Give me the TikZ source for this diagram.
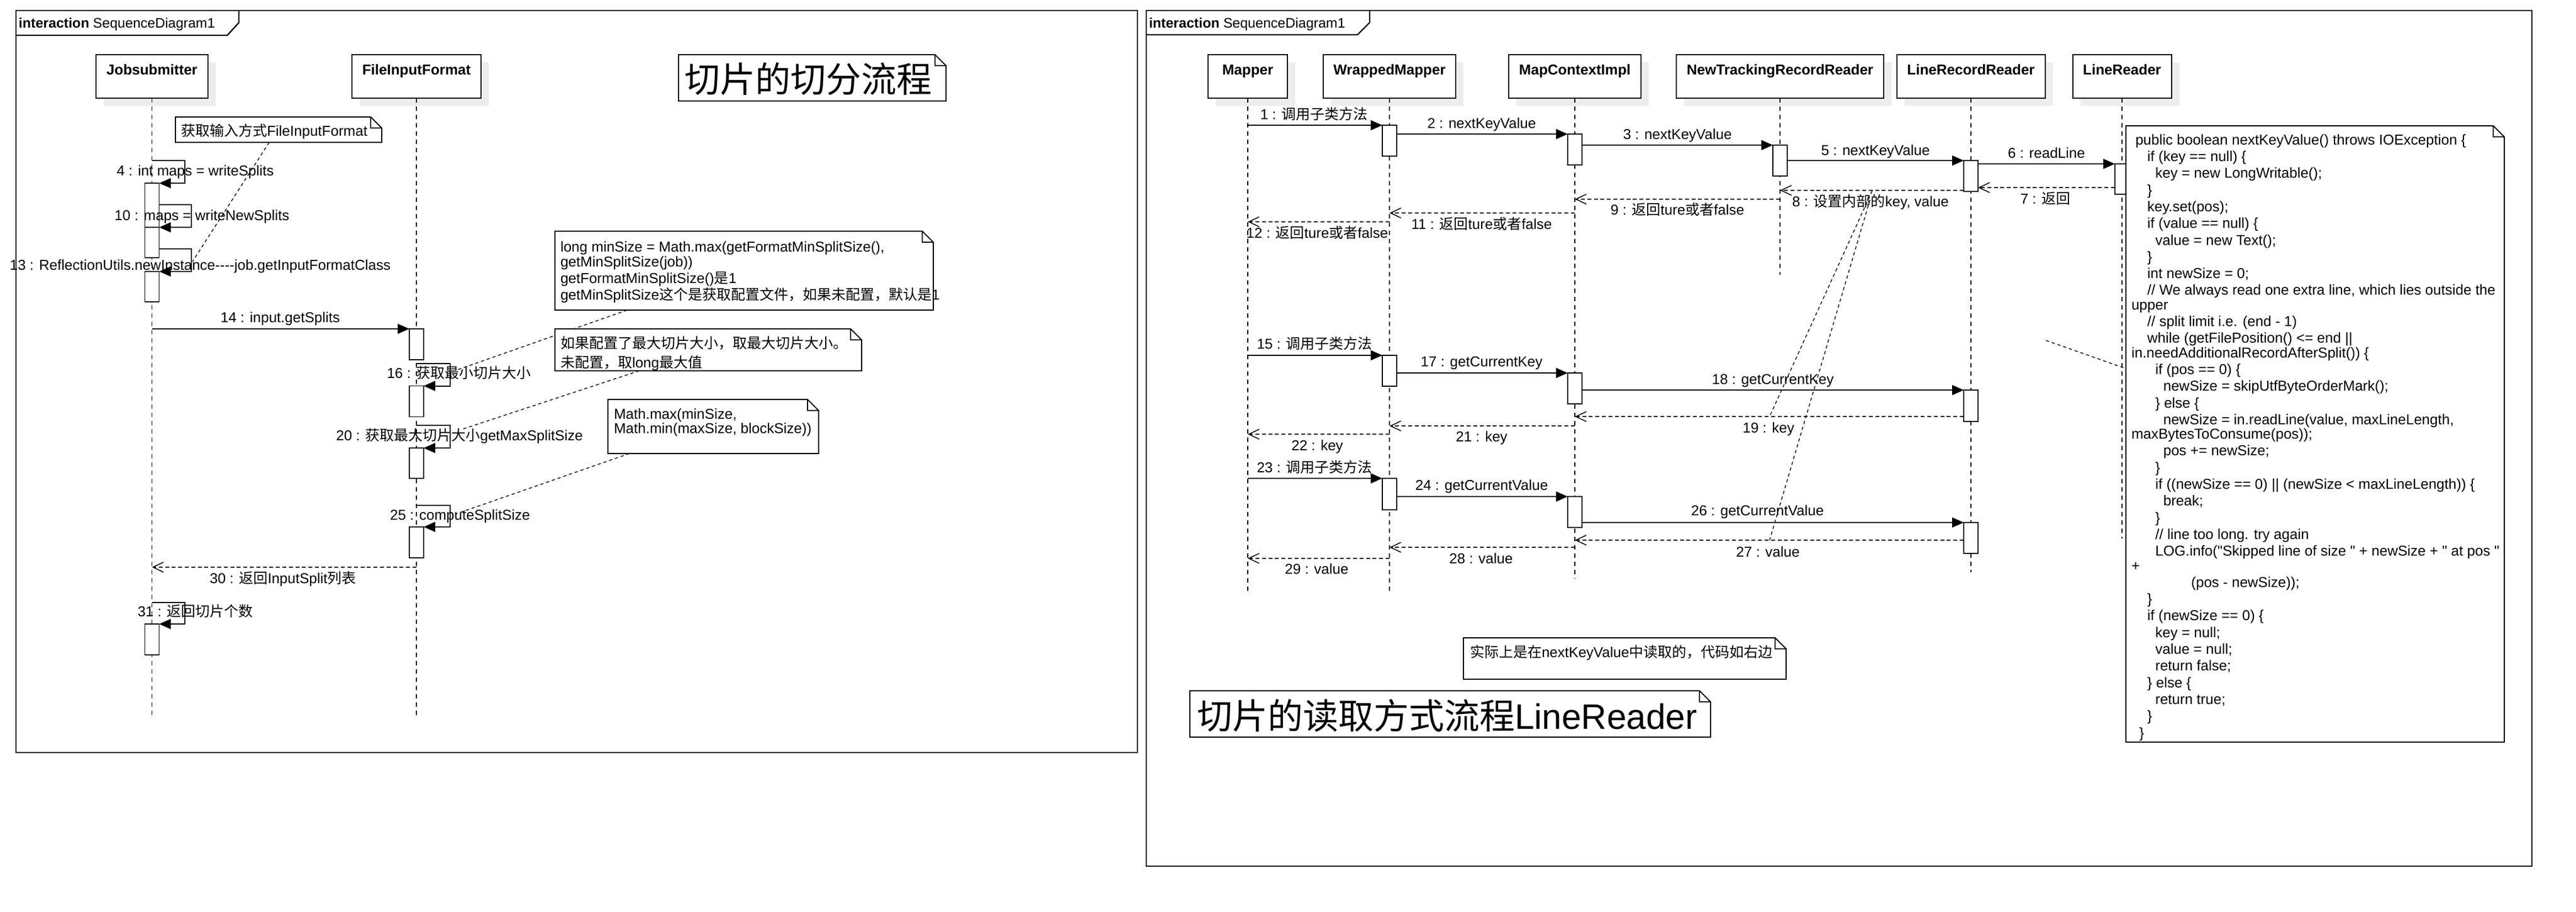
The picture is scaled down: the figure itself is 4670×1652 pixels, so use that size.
\documentclass[tikz,border=0pt]{standalone}
\usepackage{fontspec}
\setmainfont{Liberation Sans}[Ligatures=TeXOff]
\newfontfamily\cjk{Noto Sans CJK SC}
\usetikzlibrary{arrows.meta,shadows}
\newcommand\lblfont{\fontsize{6.5pt}{7.575pt}\selectfont}
\newcommand\tabfont{\fontsize{6.25pt}{7.5pt}\selectfont}
\newcommand\titlefont{\fontsize{16pt}{19pt}\selectfont}
\newcommand\ind[1]{\hspace*{#1\fontdimen2\font}}
\newcommand\dognote[1]{%
  \filldraw[fill=white,line width=0.5pt] (#1.north west) -- ([xshift=-5pt]#1.north east) -- ([yshift=-5pt]#1.north east) -- (#1.south east) -- (#1.south west) -- cycle;
  \draw[line width=0.4pt] ([xshift=-5pt]#1.north east) |- ([yshift=-5pt]#1.north east);}
\begin{document}
\begin{tikzpicture}[x=0.25pt,y=-0.25pt,
  every node/.style={inner sep=0pt,outer sep=0pt},
  lbl/.style={font=\lblfont,text height=4.68pt,text depth=0pt},
  head/.style={draw,line width=0.5pt,fill=white,minimum height=19.75pt,font=\lblfont\bfseries,text height=5pt,text depth=6.3pt,drop shadow={shadow xshift=3.5pt,shadow yshift=-3.5pt,fill=black!7,opacity=1}},
  actbox/.style={draw,line width=0.45pt,fill=white,minimum width=6.5pt,minimum height=14pt,anchor=north},
  life/.style={line width=0.4pt,dash pattern=on 2pt off 1.75pt},
  call/.style={line width=0.5pt,-{Triangle[length=5.25pt,width=4.5pt]}},
  ret/.style={line width=0.4pt,dash pattern=on 1.75pt off 1.2pt,-{Straight Barb[length=4.75pt,width=4.5pt]}},
  conn/.style={line width=0.35pt,dash pattern=on 1.5pt off 1.25pt},
  frame/.style={line width=0.6pt},
  noteshape/.style={draw=none,fill=none},
  notetxt/.style={font=\lblfont,align=left,anchor=north west},
  tabtxt/.style={font=\tabfont,text height=4.5pt,text depth=0pt,anchor=west},
  titletxt/.style={font=\titlefont,text height=11.5pt,text depth=0pt},
]
\useasboundingbox[fill=white] (0,0) rectangle (4670,1652);

% ================= LEFT FRAME =================
\draw[frame] (29,19) rectangle (2062,1364);
\draw[frame] (29,64) -- (412,64) -- (433,41) -- (433,19);
\node[tabtxt] (tabL) at (34,41) {\textbf{interaction} SequenceDiagram1};

% heads
\node[head,minimum width=50.75pt] (JS) at (275.5,138.5) {Jobsubmitter};
\node[head,minimum width=58.5pt] (FIF) at (755,138.5) {FileInputFormat};
\coordinate (JSend) at (275.5,1299);
\coordinate (FIFend) at (755,1299);
\draw[life] (JS.south) -- (JSend);
\draw[life] (FIF.south) -- (FIFend);

% activations
\node[actbox,minimum height=27pt] (a4) at (275.5,332) {};
\node[actbox,minimum height=13.75pt] (a10) at (275.5,412) {};
\node[actbox,minimum height=13.75pt] (a13) at (275.5,492) {};
\node[actbox] (a14) at (755,596) {};
\node[actbox] (a16) at (755,699.5) {};
\node[actbox,minimum height=13.75pt] (a20) at (755,812) {};
\node[actbox] (a25) at (755,955) {};
\node[actbox] (a31) at (275.5,1131) {};

% messages
\draw[call] (275.5,291) -- (335,291) -- (335,332) -- (a4.north east);
\draw[call] (288.5,371) -- (347,371) -- (347,412) -- (a10.north east);
\draw[call] (288.5,451) -- (347,451) -- (347,492) -- (a13.north east);
\draw[call] (275.5,596) -- (a14.north west);
\draw[call] (755,659) -- (816,659) -- (816,699.5) -- (a16.north east);
\draw[call] (755,771) -- (816,771) -- (816,812) -- (a20.north east);
\draw[call] (755,916) -- (816,916) -- (816,955) -- (a25.north east);
\draw[ret] (755,1028) -- (275.5,1028);
\draw[call] (275.5,1092) -- (335,1092) -- (335,1131) -- (a31.north east);

% labels
\node[lbl] (l4) at (354,309) {4 : int maps = writeSplits};
\node[lbl] (l10) at (366,390) {10 : maps = writeNewSplits};
\node[lbl] (l13) at (363,480) {13 : ReflectionUtils.newInstance----job.getInputFormatClass};
\node[lbl] (l14) at (508,575) {14 : input.getSplits};
\node[lbl] (l16) at (832,676.5) {16 : {\cjk 获取最小切片大小}};
\node[lbl] (l20) at (833,789) {20 : {\cjk 获取最大切片大小}getMaxSplitSize};
\node[lbl] (l25) at (834,933) {25 : computeSplitSize};
\node[lbl] (l30) at (513,1048) {30 : {\cjk 返回}InputSplit{\cjk 列表}};
\node[lbl] (l31) at (354,1108) {31 : {\cjk 返回切片个数}};

% note connectors
\draw[conn] (488,258) -- (349,474);
\draw[conn] (1137,562) -- (830,670);
\draw[conn] (1159,672) -- (835,779);
\draw[conn] (1141,822) -- (825,932);

% notes
\node[noteshape,minimum width=93.5pt,minimum height=11.5pt] (N0) at (505,235) {};
\dognote{N0}
\node[lbl,anchor=west] (N0t) at (328,237) {{\cjk 获取输入方式}FileInputFormat};

\node[noteshape,minimum width=171.5pt,minimum height=35.75pt] (N1) at (1349,490.5) {};
\dognote{N1}
\node[notetxt] (N1t) at (1016,435.5) {\strut long minSize = Math.max(getFormatMinSplitSize(),\\[-1pt]getMinSplitSize(job))\\getFormatMinSplitSize(){\cjk 是}1\\getMinSplitSize{\cjk 这个是获取配置文件，如果未配置，默认是}1};

\node[noteshape,minimum width=139pt,minimum height=19pt] (N2) at (1284,634) {};
\dognote{N2}
\node[notetxt] (N2t) at (1016,609.5) {\strut{\cjk 如果配置了最大切片大小，取最大切片大小。}\\{\cjk 未配置，取}long{\cjk 最大值}};

\node[noteshape,minimum width=95.5pt,minimum height=24.5pt] (N3) at (1293,773) {};
\dognote{N3}
\node[notetxt] (N3t) at (1113,738) {\strut Math.max(minSize,\\[-1pt]Math.min(maxSize, blockSize))};

\node[noteshape,minimum width=121.25pt,minimum height=21pt] (T1) at (1472.5,141) {};
\dognote{T1}
\node[titletxt] (T1t) at (1465,144) {\cjk 切片的切分流程};

% ================= RIGHT FRAME =================
\draw[frame] (2078,19) rectangle (4590,1570);
\draw[frame] (2078,63) -- (2461,63) -- (2483,41) -- (2483,19);
\node[tabtxt] (tabR) at (2083,41) {\textbf{interaction} SequenceDiagram1};

\node[head,minimum width=36pt] (MP) at (2262,138.5) {Mapper};
\node[head,minimum width=60pt] (WM) at (2519,138.5) {WrappedMapper};
\node[head,minimum width=60pt] (MC) at (2855,138.5) {MapContextImpl};
\node[head,minimum width=94pt] (NT) at (3227,138.5) {NewTrackingRecordReader};
\node[head,minimum width=67.25pt] (LRR) at (3573,138.5) {LineRecordReader};
\node[head,minimum width=44.75pt] (LR) at (3847,138.5) {LineReader};
\coordinate (MPend) at (2262,1073);
\coordinate (WMend) at (2519,1073);
\coordinate (MCend) at (2855,1049);
\coordinate (NTend) at (3227,498);
\coordinate (LRRend) at (3573,1037);
\coordinate (LRend) at (3847,976);
\draw[life] (MP.south) -- (MPend);
\draw[life] (WM.south) -- (WMend);
\draw[life] (MC.south) -- (MCend);
\draw[life] (NT.south) -- (NTend);
\draw[life] (LRR.south) -- (LRRend);
\draw[life] (LR.south) -- (LRend);

% activations
\node[actbox] (W1) at (2519,227) {};
\node[actbox] (C1) at (2855,243) {};
\node[actbox] (T1a) at (3227,263) {};
\node[actbox] (R1) at (3573,291) {};
\node[actbox,minimum height=13.75pt] (L1) at (3847,297) {};
\node[actbox] (W2) at (2519,644) {};
\node[actbox] (C2) at (2855,676) {};
\node[actbox,minimum height=14.25pt] (R2) at (3573,707) {};
\node[actbox,minimum height=14.25pt] (W3) at (2519,867) {};
\node[actbox] (C3) at (2855,900) {};
\node[actbox] (R3) at (3573,947) {};

% messages
\draw[call] (2262,227) -- (W1.north west);
\draw[call] (2532,243) -- (C1.north west);
\draw[call] (2868,263) -- (T1a.north west);
\draw[call] (3240,291) -- (R1.north west);
\draw[call] (3586,297) -- (L1.north west);
\draw[ret] (3834,340) -- (3586,340);
\draw[ret] (3560,345) -- (3227,345);
\draw[ret] (3227,361) -- (2855,361);
\draw[ret] (2855,386) -- (2519,386);
\draw[ret] (2519,402) -- (2262,402);
\draw[call] (2262,644) -- (W2.north west);
\draw[call] (2532,676) -- (C2.north west);
\draw[call] (2868,707) -- (R2.north west);
\draw[ret] (3560,755) -- (2855,755);
\draw[ret] (2855,772) -- (2519,772);
\draw[ret] (2519,787) -- (2262,787);
\draw[call] (2262,867) -- (W3.north west);
\draw[call] (2532,900) -- (C3.north west);
\draw[call] (2868,947) -- (R3.north west);
\draw[ret] (3560,979) -- (2855,979);
\draw[ret] (2855,992) -- (2519,992);
\draw[ret] (2519,1012) -- (2262,1012);

% labels
\node[lbl] (m1) at (2382,207) {1 : {\cjk 调用子类方法}};
\node[lbl] (m2) at (2686,223) {2 : nextKeyValue};
\node[lbl] (m3) at (3041,243.5) {3 : nextKeyValue};
\node[lbl] (m5) at (3400,272) {5 : nextKeyValue};
\node[lbl] (m6) at (3710,277) {6 : readLine};
\node[lbl] (m7) at (3708,360) {7 : {\cjk 返回}};
\node[lbl] (m8) at (3391,365) {8 : {\cjk 设置内部的}key, value};
\node[lbl] (m9) at (3041,380) {9 : {\cjk 返回}ture{\cjk 或者}false};
\node[lbl] (m11) at (2686,406) {11 : {\cjk 返回}ture{\cjk 或者}false};
\node[lbl] (m12) at (2388,422) {12 : {\cjk 返回}ture{\cjk 或者}false};
\node[lbl] (m15) at (2383,623.5) {15 : {\cjk 调用子类方法}};
\node[lbl] (m17) at (2686,655) {17 : getCurrentKey};
\node[lbl] (m18) at (3214,687) {18 : getCurrentKey};
\node[lbl] (m19) at (3206,775) {19 : key};
\node[lbl] (m21) at (2686,791) {21 : key};
\node[lbl] (m22) at (2388,807) {22 : key};
\node[lbl] (m23) at (2383,847) {23 : {\cjk 调用子类方法}};
\node[lbl] (m24) at (2686,879.5) {24 : getCurrentValue};
\node[lbl] (m26) at (3186,925) {26 : getCurrentValue};
\node[lbl] (m27) at (3205,1000) {27 : value};
\node[lbl] (m28) at (2685,1012) {28 : value};
\node[lbl] (m29) at (2387,1031) {29 : value};

% connectors
\draw[conn] (3394,346) -- (3208,755);
\draw[conn] (3390,362) -- (3208,979);
\draw[conn] (3709,617) -- (3854,668);

% notes
\node[noteshape,minimum width=171.5pt,minimum height=279.25pt] (CODE) at (4197,786.5) {};
\dognote{CODE}
\node[notetxt] (CODEt) at (3864,241) {\strut\ind{1}public boolean nextKeyValue() throws IOException \{\\
\ind{4}if (key == null) \{\\
\ind{6}key = new LongWritable();\\
\ind{4}\}\\
\ind{4}key.set(pos);\\
\ind{4}if (value == null) \{\\
\ind{6}value = new Text();\\
\ind{4}\}\\
\ind{4}int newSize = 0;\\
\ind{4}// We always read one extra line, which lies outside the\\[-1pt]
upper\\
\ind{4}// split limit i.e. (end - 1)\\
\ind{4}while (getFilePosition() <= end ||\\[-1pt]
in.needAdditionalRecordAfterSplit()) \{\\
\ind{6}if (pos == 0) \{\\
\ind{8}newSize = skipUtfByteOrderMark();\\
\ind{6}\} else \{\\
\ind{8}newSize = in.readLine(value, maxLineLength,\\[-1pt]
maxBytesToConsume(pos));\\
\ind{8}pos += newSize;\\
\ind{6}\}\\
\ind{6}if ((newSize == 0) || (newSize < maxLineLength)) \{\\
\ind{8}break;\\
\ind{6}\}\\
\ind{6}// line too long. try again\\
\ind{6}LOG.info("Skipped line of size " + newSize + " at pos "\\[-1pt]
+\\
\ind{15}(pos - newSize));\\
\ind{4}\}\\
\ind{4}if (newSize == 0) \{\\
\ind{6}key = null;\\
\ind{6}value = null;\\
\ind{6}return false;\\
\ind{4}\} else \{\\
\ind{6}return true;\\
\ind{4}\}\\
\ind{2}\}};

\node[noteshape,minimum width=146.25pt,minimum height=18.75pt] (N5) at (2945.5,1193.5) {};
\dognote{N5}
\node[lbl,anchor=west] (N5t) at (2665,1182) {{\cjk 实际上是在}nextKeyValue{\cjk 中读取的，代码如右边}};

\node[noteshape,minimum width=236pt,minimum height=21pt] (T2) at (2629,1294) {};
\dognote{T2}
\node[titletxt,anchor=west] (T2t) at (2170,1298) {{\cjk 切片的读取方式流程}LineReader};
\end{tikzpicture}
\end{document}
